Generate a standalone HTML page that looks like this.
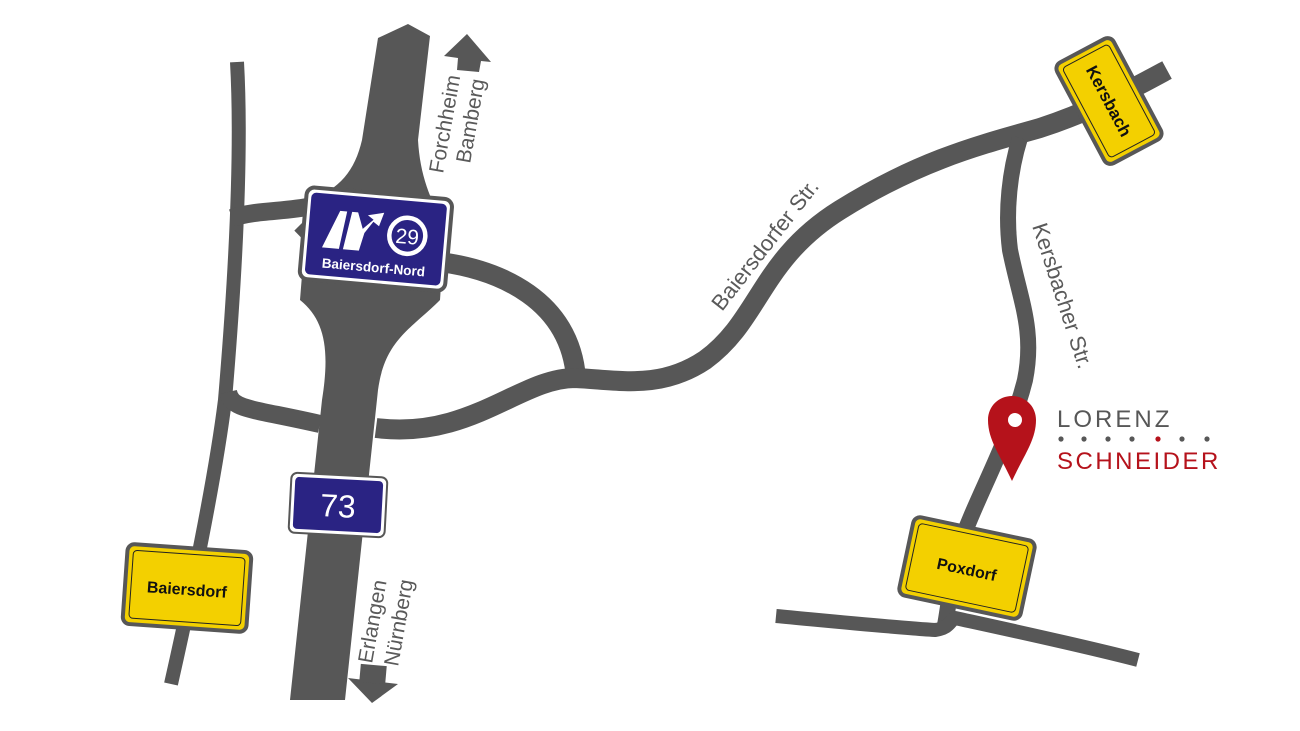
<!DOCTYPE html>
<html><head><meta charset="utf-8"><style>
html,body{margin:0;padding:0;background:#fff;}
svg{display:block;}
text{font-family:"Liberation Sans",sans-serif;}
</style></head><body>
<svg width="1300" height="731" viewBox="0 0 1300 731" xmlns="http://www.w3.org/2000/svg">
<g fill="none" stroke="#575757" stroke-linecap="butt" stroke-linejoin="round">
  <path d="M237,62 C242,150 236,270 225,400 C215,480 190,600 171,684" stroke-width="14"/>
  <path d="M232,218 C255,210 285,212 312,206" stroke-width="18"/>
  <path d="M228,392 C232,410 250,408 320,424" stroke-width="18"/>
  <path d="M300,225 C325,250 340,270 345,300" stroke-width="16"/>
  <path d="M440,255 C420,240 410,220 405,200" stroke-width="16"/>
  <path d="M440,262 C500,270 570,300 576,378" stroke-width="20"/>
  <path d="M376,428 C470,440 520,378 575,378 C620,380 660,390 705,360 C760,320 760,260 840,210 C920,160 980,145 1040,128 C1090,112 1130,90 1167,70" stroke-width="20"/>
  <path d="M1020,138 C1010,170 1005,210 1010,250 C1020,300 1035,330 1025,380 C1010,440 975,500 960,545 C950,585 948,610 945,625" stroke-width="16"/>
  <path d="M776,616 C840,622 900,628 935,630 C950,628 950,620 955,618 C1010,630 1080,645 1138,660" stroke-width="14"/>
</g>
<path d="M378,38 L408,24 L430,36 L418,140 C420,175 430,200 445,225 L440,300 C410,330 385,340 378,390 L345,700 L290,700 L322,400 C330,350 325,320 300,300 L308,200 C340,190 355,170 362,140 Z" fill="#575757"/>
<!-- arrows -->
<polygon points="444,56 467,34 491,62 481,61 479,72 457,70 458,58" fill="#575757"/>
<polygon points="348,678 398,684 372,703" fill="#575757"/>
<rect x="360" y="665" width="26" height="18" fill="#575757" transform="rotate(5 373 674)"/>
<!-- highway sign -->
<g transform="rotate(5 375 238)">
  <rect x="303" y="193" width="146" height="92" rx="8" fill="#fff" stroke="#575757" stroke-width="4"/>
  <rect x="308" y="198" width="136" height="82" rx="5" fill="#2a2383"/>
  <polygon points="323,252 338,214 345,214 340,252" fill="#fff"/>
  <polygon points="344,252 350,214 356,214 362,230 372,220 366,216 382,212 378,226 372,222 364,234 360,252" fill="#fff"/>
  <circle cx="407" cy="233" r="18" fill="none" stroke="#fff" stroke-width="4.5"/>
  <text x="407" y="241" font-size="21" fill="#fff" text-anchor="middle">29</text>
  <text x="376" y="272" font-size="13.5" font-weight="bold" fill="#fff" text-anchor="middle">Baiersdorf-Nord</text>
</g>
<g transform="rotate(3 338 505)">
  <rect x="290" y="475" width="96" height="60" rx="6" fill="#fff" stroke="#575757" stroke-width="2"/>
  <rect x="294" y="479" width="88" height="52" rx="4" fill="#2a2383"/>
  <text x="338" y="517" font-size="32" fill="#fff" text-anchor="middle">73</text>
</g>
<g transform="rotate(4 187 588)">
  <rect x="125" y="548" width="124" height="80" rx="7" fill="#f3d000" stroke="#575757" stroke-width="4"/>
  <rect x="131" y="554" width="112" height="68" rx="4" fill="none" stroke="#222" stroke-width="1"/>
  <text x="187" y="595" font-size="16" font-weight="bold" fill="#111" text-anchor="middle">Baiersdorf</text>
</g>
<g transform="rotate(12 967 568)">
  <rect x="905" y="528" width="124" height="80" rx="7" fill="#f3d000" stroke="#575757" stroke-width="4"/>
  <rect x="911" y="534" width="112" height="68" rx="4" fill="none" stroke="#222" stroke-width="1"/>
  <text x="967" y="575" font-size="16" font-weight="bold" fill="#111" text-anchor="middle">Poxdorf</text>
</g>
<g transform="rotate(62 1109 101)">
  <rect x="1052" y="69" width="114" height="64" rx="7" fill="#f3d000" stroke="#575757" stroke-width="4"/>
  <rect x="1058" y="75" width="102" height="52" rx="4" fill="none" stroke="#222" stroke-width="1"/>
  <text x="1109" y="107" font-size="17" font-weight="bold" fill="#111" text-anchor="middle">Kersbach</text>
</g>
<g fill="#5a5a5a" font-size="21">
  <text transform="translate(443,174) rotate(-80)">Forchheim</text>
  <text transform="translate(470,164) rotate(-80)">Bamberg</text>
  <text transform="translate(372,664) rotate(-80)">Erlangen</text>
  <text transform="translate(398,667) rotate(-80)">Nürnberg</text>
  <text transform="translate(722,312) rotate(-52)" font-size="22">Baiersdorfer Str.</text>
  <text transform="translate(1032,226) rotate(72)" font-size="22">Kersbacher Str.</text>
</g>
<path d="M1012,481 C1000,455 988,440 988,420 C988,406 999,396 1012,396 C1025,396 1036,406 1036,420 C1036,440 1024,455 1012,481 Z" fill="#b5121b"/>
<circle cx="1015" cy="420" r="7" fill="#fff"/>
<text x="1057" y="427" font-size="24" fill="#575757" letter-spacing="3">LORENZ</text>
<g fill="#575757">
  <circle cx="1061" cy="439" r="2.6"/><circle cx="1084" cy="439" r="2.6"/><circle cx="1108" cy="439" r="2.6"/><circle cx="1132" cy="439" r="2.6"/>
  <circle cx="1158" cy="439" r="2.6" fill="#b5121b"/><circle cx="1182" cy="439" r="2.6"/><circle cx="1207" cy="439" r="2.6"/>
</g>
<text x="1057" y="469" font-size="24" fill="#b5121b" letter-spacing="2.5">SCHNEIDER</text>
</svg>
</body></html>
